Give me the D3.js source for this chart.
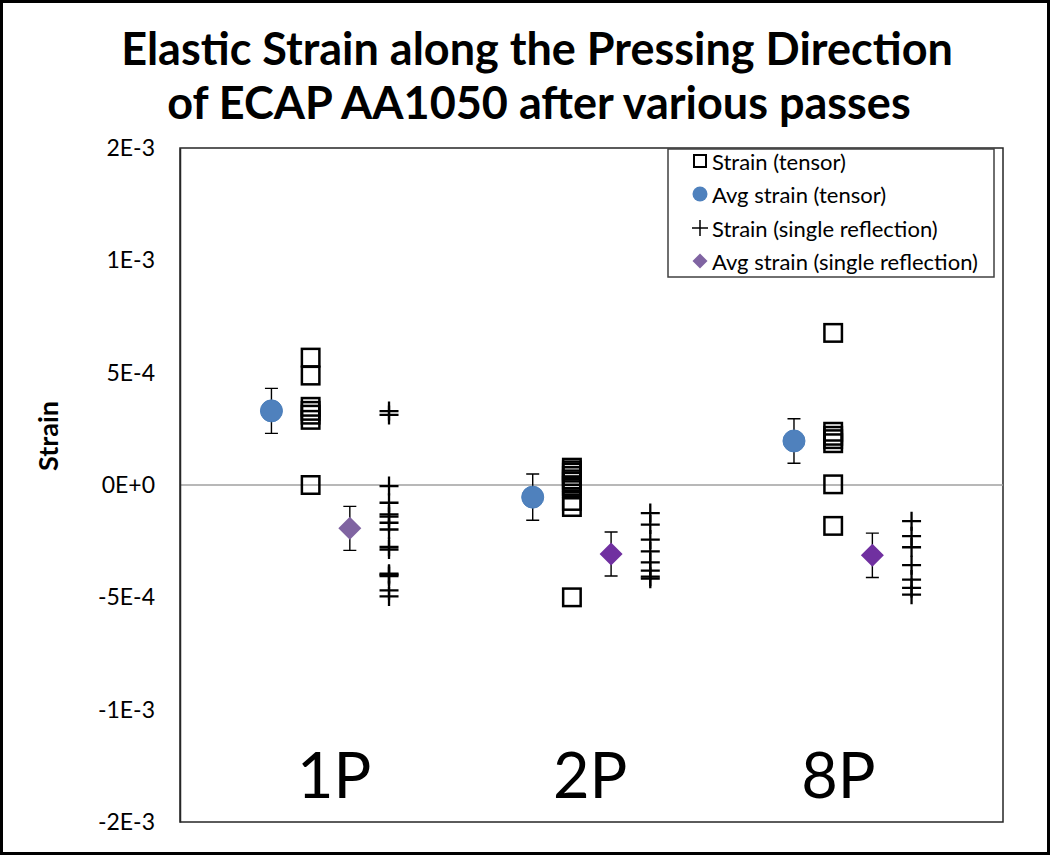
<!DOCTYPE html>
<html>
<head>
<meta charset="utf-8">
<script src="https://cdn.jsdelivr.net/npm/d3@7"></script>
<style>
  body { margin: 0; background: #fff; }
  text { font-family: Lato, "Open Sans", sans-serif; fill: #000; }
</style>
</head>
<body>
<div id="chart"></div>
<script>
// Data
var categories = ["1P", "2P", "8P"];
var categoryX = [1, 2, 3];

var strainTensor1P = [5.67e-4, 4.87e-4, 3.48e-4, 3.30e-4, 3.13e-4, 2.90e-4, 0];
var strainTensor2P = [0.77e-4, 0.65e-4, 0.55e-4, 0.40e-4, 0.25e-4, 0.15e-4, -0.04e-4, -0.12e-4, -0.71e-4, -0.98e-4, -5.0e-4];
var strainTensor8P = [6.77e-4, 2.37e-4, 2.19e-4, 2.04e-4, 1.86e-4, 0.03e-4, -1.82e-4];

var avgTensor = [3.30e-4, -0.54e-4, 1.96e-4];
var avgTensorErr = [1.0e-4, 1.03e-4, 0.99e-4];

var strainSingle1P = [3.29e-4, 3.12e-4, -0.05e-4, -0.79e-4, -1.31e-4, -1.41e-4, -1.68e-4, -1.98e-4, -2.75e-4, -2.87e-4, -3.95e-4, -3.99e-4, -4.06e-4, -4.69e-4, -4.96e-4];
var strainSingle2P = [-1.25e-4, -1.76e-4, -2.43e-4, -2.95e-4, -3.44e-4, -3.81e-4, -4.08e-4, -4.17e-4];
var strainSingle8P = [-1.61e-4, -2.28e-4, -2.77e-4, -3.57e-4, -4.21e-4, -4.58e-4, -4.88e-4];

var avgSingle = [-1.93e-4, -3.07e-4, -3.13e-4];
var avgSingleErr = [0.98e-4, 0.98e-4, 0.99e-4];

var yTicks = [-1.5e-3, -1e-3, -5e-4, 0, 5e-4, 1e-3, 1.5e-3];
var yTickLabels = ["-2E-3", "-1E-3", "-5E-4", "0E+0", "5E-4", "1E-3", "2E-3"];

var legendLabels = ["Strain (tensor)", "Avg strain (tensor)", "Strain (single reflection)", "Avg strain (single reflection)"];

// Layout
var svgWidth = 1050;
var svgHeight = 855;
var plot = { left: 180, right: 1003, top: 148, bottom: 822 };

// horizontal offsets of the four columns within a category
var offTensor = 0, offAvgTensor = -0.15, offAvgSingle = 0.15, offSingle = 0.3;
var labelOffset = [0.09, 0.07, 0.02];
var diamondColors = ["#8064a2", "#7030a0", "#7030a0"];

var svg = d3.select("#chart")
  .append("svg")
  .attr("width", svgWidth)
  .attr("height", svgHeight);

// outer frame
svg.append("rect")
  .attr("x", 1.5).attr("y", 1.5)
  .attr("width", svgWidth - 3).attr("height", svgHeight - 3)
  .attr("fill", "none")
  .attr("stroke", "#000")
  .attr("stroke-width", 3);

var xScale = d3.scaleLinear()
  .domain([0.5, 3.65])
  .range([plot.left, plot.right]);

var yScale = d3.scaleLinear()
  .domain([-1.5e-3, 1.5e-3])
  .range([plot.bottom, plot.top]);

// Title
var title = svg.append("text")
  .attr("text-anchor", "middle")
  .style("font-size", "45px")
  .style("font-weight", "bold");
title.append("tspan").attr("x", 537).attr("y", 65).text("Elastic Strain along the Pressing Direction");
title.append("tspan").attr("x", 539).attr("y", 119).text("of ECAP AA1050 after various passes");

// plot frame
svg.append("rect")
  .attr("x", plot.left).attr("y", plot.top)
  .attr("width", plot.right - plot.left).attr("height", plot.bottom - plot.top)
  .attr("fill", "none")
  .attr("stroke", "#262626")
  .attr("stroke-width", 1.5);

// zero line
svg.append("line")
  .attr("x1", plot.left).attr("x2", plot.right)
  .attr("y1", yScale(0)).attr("y2", yScale(0))
  .attr("stroke", "#a0a0a0")
  .attr("stroke-width", 1.5);

// Y axis
var leftAxis = d3.axisLeft(yScale)
  .tickValues(yTicks)
  .tickFormat(function (d, i) { return yTickLabels[i]; })
  .tickSize(0)
  .tickPadding(25);

var yAxisG = svg.append("g")
  .attr("transform", `translate(${plot.left}, 0)`)
  .call(leftAxis);
yAxisG.select(".domain").attr("stroke", "#262626").attr("stroke-width", 1.5);
yAxisG.selectAll("text")
  .style("font-family", "Lato, 'Open Sans', sans-serif")
  .style("font-size", "23px")
  .attr("fill", "#000");

svg.append("text")
  .attr("transform", "translate(47, 436) rotate(-90)")
  .attr("text-anchor", "middle")
  .attr("dominant-baseline", "central")
  .style("font-size", "27px")
  .style("font-weight", "bold")
  .text("Strain");

// category labels
svg.selectAll(".catLabel")
  .data(categories)
  .enter()
  .append("text")
  .attr("class", "catLabel")
  .attr("x", (d, i) => xScale(categoryX[i] + labelOffset[i]))
  .attr("y", 798)
  .attr("text-anchor", "middle")
  .style("font-size", "63px")
  .text(d => d);

var plotG = svg.append("g");

// Strain (tensor) - open squares
var tensorPoints = [];
[strainTensor1P, strainTensor2P, strainTensor8P].forEach(function (vals, i) {
  vals.forEach(function (v) { tensorPoints.push({ x: categoryX[i] + offTensor, y: v }); });
});
plotG.selectAll(".sq")
  .data(tensorPoints)
  .enter()
  .append("rect")
  .attr("class", "sq")
  .attr("x", d => xScale(d.x) - 8.75)
  .attr("y", d => yScale(d.y) - 8.75)
  .attr("width", 17.5)
  .attr("height", 17.5)
  .attr("fill", "none")
  .attr("stroke", "#000")
  .attr("stroke-width", 2.5);

// Strain (single reflection) - plus
var singlePoints = [];
[strainSingle1P, strainSingle2P, strainSingle8P].forEach(function (vals, i) {
  vals.forEach(function (v) { singlePoints.push({ x: categoryX[i] + offSingle, y: v }); });
});
plotG.selectAll(".plus")
  .data(singlePoints)
  .enter()
  .append("path")
  .attr("class", "plus")
  .attr("transform", d => `translate(${xScale(d.x)}, ${yScale(d.y)})`)
  .attr("d", "M-9.5,0H9.5M0,-9.5V9.5")
  .attr("stroke", "#000")
  .attr("stroke-width", 2.3);

// error bars
function errorBars(vals, errs, off) {
  var g = plotG.append("g");
  vals.forEach(function (v, i) {
    var x = xScale(categoryX[i] + off);
    var y1 = yScale(v + errs[i]), y2 = yScale(v - errs[i]);
    g.append("path")
      .attr("d", `M${x},${y1}V${y2}M${x - 6.5},${y1}H${x + 6.5}M${x - 6.5},${y2}H${x + 6.5}`)
      .attr("fill", "none")
      .attr("stroke", "#000")
      .attr("stroke-width", 1.4);
  });
}
errorBars(avgTensor, avgTensorErr, offAvgTensor);
errorBars(avgSingle, avgSingleErr, offAvgSingle);

// Avg strain (tensor) - blue circles
plotG.selectAll(".avgT")
  .data(avgTensor)
  .enter()
  .append("circle")
  .attr("class", "avgT")
  .attr("cx", (d, i) => xScale(categoryX[i] + offAvgTensor))
  .attr("cy", d => yScale(d))
  .attr("r", 11)
  .attr("fill", "#4f81bd")
  .attr("stroke", "#4a7ebb")
  .attr("stroke-width", 1);

// Avg strain (single reflection) - purple diamonds
plotG.selectAll(".avgS")
  .data(avgSingle)
  .enter()
  .append("path")
  .attr("class", "avgS")
  .attr("transform", (d, i) => `translate(${xScale(categoryX[i] + offAvgSingle)}, ${yScale(d)})`)
  .attr("d", "M0,-11.5L11.5,0L0,11.5L-11.5,0Z")
  .attr("fill", (d, i) => diamondColors[i]);

// Legend
var legend = svg.append("g").attr("transform", "translate(668, 149)");
legend.append("rect")
  .attr("width", 326).attr("height", 128)
  .attr("fill", "#fff")
  .attr("stroke", "#404040")
  .attr("stroke-width", 1.5);

var rowY = [12, 45, 79, 112];
var mx = 32;
legend.append("rect")
  .attr("x", mx - 6).attr("y", rowY[0] - 6)
  .attr("width", 12).attr("height", 12)
  .attr("fill", "none").attr("stroke", "#000").attr("stroke-width", 2);
legend.append("circle")
  .attr("cx", mx).attr("cy", rowY[1]).attr("r", 7.5)
  .attr("fill", "#4f81bd");
legend.append("path")
  .attr("transform", `translate(${mx}, ${rowY[2]})`)
  .attr("d", "M-8,0H8M0,-8V8")
  .attr("stroke", "#000").attr("stroke-width", 1.5);
legend.append("path")
  .attr("transform", `translate(${mx}, ${rowY[3]})`)
  .attr("d", "M0,-7.5L7.5,0L0,7.5L-7.5,0Z")
  .attr("fill", "#8064a2");

legend.selectAll(".legText")
  .data(legendLabels)
  .enter()
  .append("text")
  .attr("class", "legText")
  .attr("x", 44)
  .attr("y", (d, i) => rowY[i])
  .attr("dominant-baseline", "central")
  .style("font-size", "22px")
  .text(d => d);
</script>
</body>
</html>
